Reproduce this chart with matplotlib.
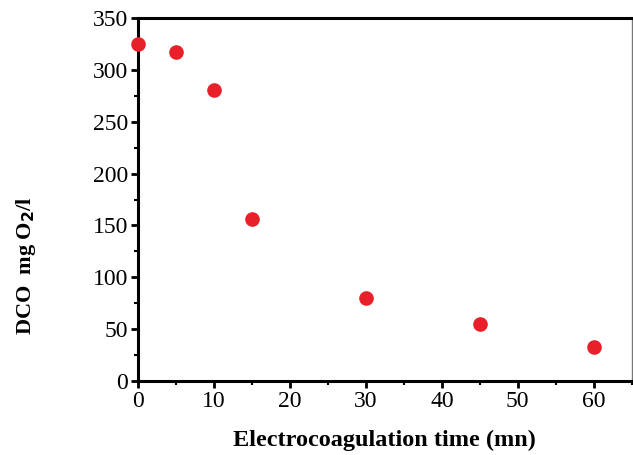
import numpy as np
from matplotlib import pyplot as plt
from matplotlib.ticker import MultipleLocator

# electrocoagulation time (mn) and DCO (mg O2/l)
time_mn = [0, 5, 10, 15, 30, 45, 60]
dco = [325, 317, 281, 156, 80, 55, 33]

plt.rcParams['font.family'] = ['Liberation Serif', 'DejaVu Serif']

fig = plt.figure(figsize=(6.33, 4.55), dpi=100)
ax = fig.add_axes([0.218, 0.163, 0.78, 0.797])

ax.plot(time_mn, dco, 'o', color='#e8202a', markersize=9.5, clip_on=False, zorder=5)

ax.set_xlim(0, 65)
ax.set_ylim(0, 350)
ax.xaxis.set_major_locator(MultipleLocator(10))
ax.xaxis.set_minor_locator(MultipleLocator(5))
ax.yaxis.set_major_locator(MultipleLocator(50))
ax.yaxis.set_minor_locator(MultipleLocator(25))

for side in ['left', 'bottom', 'top']:
    ax.spines[side].set_linewidth(2.2)
ax.spines['right'].set_linewidth(1.0)
ax.spines['right'].set_color('#777777')

ax.tick_params(which='major', direction='out', length=5, width=2, labelsize=17, pad=2)
ax.tick_params(which='minor', direction='out', length=3, width=1.5)
ax.tick_params(top=False, right=False)

ax.set_xlabel('Electrocoagulation time (mn)', fontsize=17.5, fontweight='bold', labelpad=13)
ax.set_ylabel('DCO  mg O$_\\mathbf{2}$/l', fontsize=16, fontweight='bold')
ax.yaxis.set_label_coords(-0.202, 0.317)

fig.savefig('out.png', dpi=100)
